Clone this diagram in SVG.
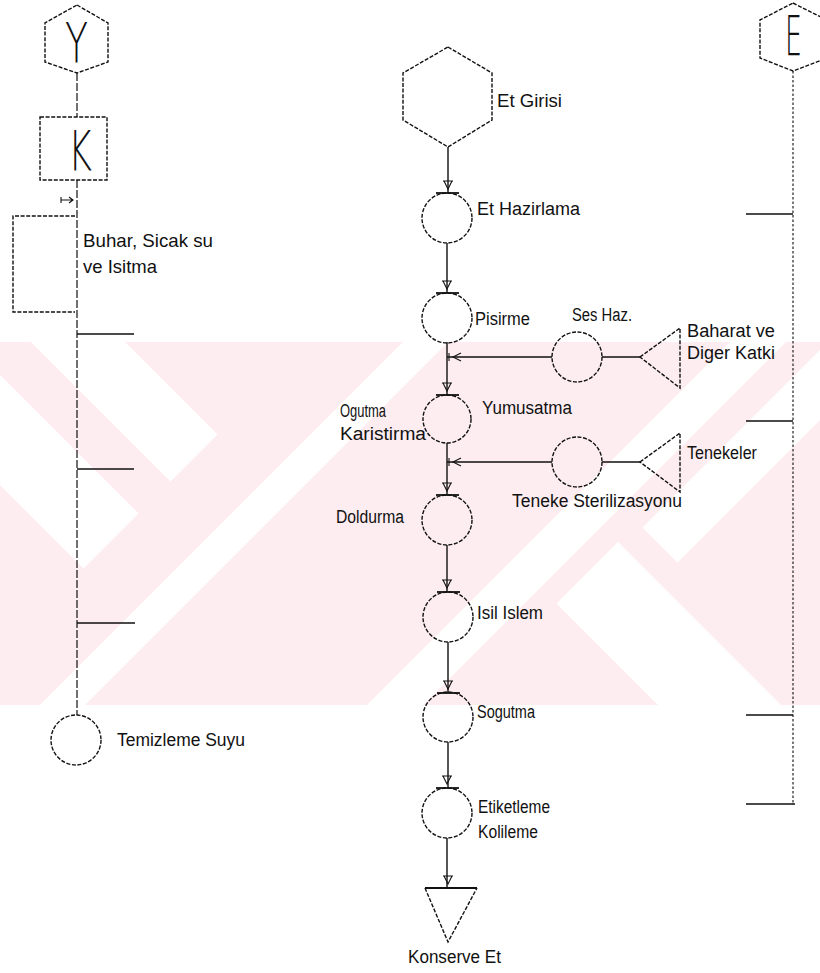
<svg xmlns="http://www.w3.org/2000/svg" width="820" height="973" viewBox="0 0 820 973">
<style>
.o{fill:none;stroke:#111;stroke-width:1.4;stroke-dasharray:4 1.6}
.ln{fill:none;stroke:#111;stroke-width:1.4}
.dl{fill:none;stroke:#111;stroke-width:1.2;stroke-dasharray:8 2}
.dr{fill:none;stroke:#222;stroke-width:1.2;stroke-dasharray:2.5 2}
.tk{fill:none;stroke:#111;stroke-width:1.6}
.bar{fill:none;stroke:#111;stroke-width:1.8}
.mk{fill:none;stroke:#111;stroke-width:1.1}
text{font-family:"Liberation Sans",Arial,sans-serif;font-size:18px;fill:#111}
.big{font-family:"DejaVu Sans","Liberation Sans",sans-serif;font-weight:200;font-size:56px}
.wm{fill:#fdedf0}
.wh{fill:#ffffff}
</style>
<defs>
<clipPath id="wmc"><rect x="0" y="342" width="820" height="363"/></clipPath>
<g id="dn"><path class="mk" d="M-5,-4 H5 M-4,-4 L0,4 L4,-4"/></g>
<g id="lf"><path class="mk" d="M5,-4 L-3,0 L5,4 M-7,-4 V4"/></g>
</defs>
<rect width="820" height="973" fill="#ffffff"/>
<g id="watermark" clip-path="url(#wmc)">
<rect class="wm" x="0" y="342" width="820" height="363"/>
<polygon class="wh" points="-11,300 83,300 217.5,434.5 170.5,481.5"/>
<polygon class="wh" points="-60,315 138.5,513.5 83.5,568.5 -60,425"/>
<polygon class="wh" points="445,300 490,300 40,750 -5,750"/>
<polygon class="wh" points="772,300 828,300 378,750 322,750"/>
<polygon class="wh" points="870,300 940,300 677.5,562.5 642.5,527.5"/>
<polygon class="wh" points="618,542 826,750 703,750 556.5,603.5"/>
</g>
<g id="connectors">
<path class="dl" d="M77,73 V117 M77,180 V715"/>
<path class="tk" d="M77,334 H134 M77,469 H134 M77,623 H135"/>
<path class="mk" d="M61,197 V203 M61,200 H73 M69,197 L73,200 L69,203"/>
<path class="dr" d="M793,71 V805"/>
<path class="tk" d="M746,214 H793 M746,421 H793 M746,715 H793 M746,804 H795"/>
<path class="ln" d="M448,147 V193 M447,243 V293 M447,342 V395 M447,443 V495 M447,545 V592 M448,642 V693 M448,742 V788 M447,838 V888"/>
<path class="ln" d="M447,357 H552 M602,357 H640 M447,462 H552 M602,462 H640"/>
<use href="#dn" x="448" y="185"/>
<use href="#dn" x="447" y="285"/>
<use href="#dn" x="447" y="387"/>
<use href="#dn" x="447" y="487"/>
<use href="#dn" x="447" y="584"/>
<use href="#dn" x="448" y="685"/>
<use href="#dn" x="447" y="780"/>
<use href="#dn" x="448" y="880"/>
<use href="#lf" x="456" y="357"/>
<use href="#lf" x="456" y="462"/>
</g>
<g id="node-Y">
<polygon class="o" points="77,5 108,23 108,62 77,73 45,62 45,23"/>
<text class="big" x="65" y="62" textLength="23" lengthAdjust="spacingAndGlyphs">Y</text>
</g>
<g id="node-K">
<rect class="o" x="40" y="117" width="67" height="63"/>
<text class="big" x="68" y="170" textLength="24" lengthAdjust="spacingAndGlyphs">K</text>
</g>
<g id="node-buhar">
<path class="o" d="M75,216 H13 V312 H75"/>
<text x="83" y="247" textLength="130" lengthAdjust="spacingAndGlyphs" style="font-size:19px">Buhar, Sicak su</text>
<text x="83" y="273" textLength="74" lengthAdjust="spacingAndGlyphs" style="font-size:19px">ve Isitma</text>
</g>
<g id="node-temizleme">
<circle class="o" cx="76" cy="740" r="25"/>
<text x="117" y="746" textLength="128" lengthAdjust="spacingAndGlyphs">Temizleme Suyu</text>
</g>
<g id="node-E">
<polygon class="o" points="793,3 827,20 827,58 793,71 760,58 760,20"/>
<text class="big" x="785" y="55" textLength="17" lengthAdjust="spacingAndGlyphs">E</text>
</g>
<g id="node-etgirisi">
<polygon class="o" points="448,47 492,73 492,120 448,147 403,120 403,73"/>
<text x="497" y="107" textLength="65" lengthAdjust="spacingAndGlyphs">Et Girisi</text>
</g>
<g id="node-ethazirlama">
<circle class="o" cx="447" cy="218" r="25"/>
<path class="bar" d="M436,193 H459"/>
<text x="477" y="215" textLength="103" lengthAdjust="spacingAndGlyphs">Et Hazirlama</text>
</g>
<g id="node-pisirme">
<circle class="o" cx="447" cy="318" r="25"/>
<path class="bar" d="M436,293 H459"/>
<text x="475" y="325" textLength="55" lengthAdjust="spacingAndGlyphs">Pisirme</text>
</g>
<g id="node-seshaz">
<circle class="o" cx="577" cy="357" r="25"/>
<text x="572" y="321" textLength="60" lengthAdjust="spacingAndGlyphs">Ses Haz.</text>
</g>
<g id="node-baharat">
<polygon class="o" points="640,357 680,328 680,388"/>
<text x="687" y="337" textLength="88" lengthAdjust="spacingAndGlyphs">Baharat ve</text>
<text x="687" y="359" textLength="88" lengthAdjust="spacingAndGlyphs">Diger Katki</text>
</g>
<g id="node-yumusatma">
<circle class="o" cx="447" cy="419" r="24"/>
<path class="bar" d="M436,395 H459"/>
<text x="482" y="414" textLength="90" lengthAdjust="spacingAndGlyphs">Yumusatma</text>
<text x="340" y="417" textLength="46" lengthAdjust="spacingAndGlyphs">Ogutma</text>
<text x="340" y="440" textLength="86" lengthAdjust="spacingAndGlyphs">Karistirma</text>
</g>
<g id="node-sterilizasyon">
<circle class="o" cx="577" cy="462" r="25"/>
<text x="512" y="507" textLength="170" lengthAdjust="spacingAndGlyphs">Teneke Sterilizasyonu</text>
</g>
<g id="node-tenekeler">
<polygon class="o" points="640,462 680,433 680,492"/>
<text x="687" y="459" textLength="70" lengthAdjust="spacingAndGlyphs">Tenekeler</text>
</g>
<g id="node-doldurma">
<circle class="o" cx="447" cy="520" r="25"/>
<path class="bar" d="M436,495 H459"/>
<text x="336" y="523" textLength="68" lengthAdjust="spacingAndGlyphs">Doldurma</text>
</g>
<g id="node-isilislem">
<circle class="o" cx="448" cy="617" r="25"/>
<path class="bar" d="M437,592 H460"/>
<text x="477" y="619" textLength="66" lengthAdjust="spacingAndGlyphs">Isil Islem</text>
</g>
<g id="node-sogutma">
<circle class="o" cx="448" cy="717" r="25"/>
<path class="bar" d="M437,693 H460"/>
<text x="477" y="718" textLength="58" lengthAdjust="spacingAndGlyphs">Sogutma</text>
</g>
<g id="node-etiketleme">
<circle class="o" cx="447" cy="813" r="25"/>
<path class="bar" d="M436,788 H459"/>
<text x="478" y="813" textLength="72" lengthAdjust="spacingAndGlyphs">Etiketleme</text>
<text x="478" y="838" textLength="60" lengthAdjust="spacingAndGlyphs">Kolileme</text>
</g>
<g id="node-konserve">
<path class="o" d="M425,888 L448,942 L477,888"/>
<path class="bar" d="M425,888 H477"/>
<text x="408" y="963" textLength="93" lengthAdjust="spacingAndGlyphs">Konserve Et</text>
</g>
</svg>
